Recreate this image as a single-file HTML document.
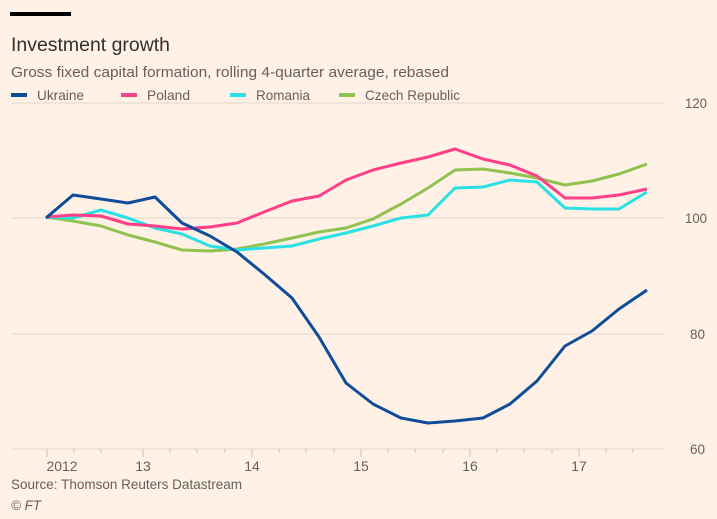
<!DOCTYPE html>
<html><head><meta charset="utf-8"><style>
body{margin:0;background:#fff1e5;}
svg{display:block;font-family:"Liberation Sans",sans-serif;}
</style></head><body>
<svg width="717" height="519" viewBox="0 0 717 519" xmlns="http://www.w3.org/2000/svg">
<rect width="717" height="519" fill="#fff1e5"/>
<rect x="10" y="12" width="61" height="4" fill="#000"/>
<text x="11" y="51" font-size="19" fill="#33302e" textLength="159" lengthAdjust="spacingAndGlyphs">Investment growth</text>
<text x="11" y="77" font-size="15" fill="#66605c" textLength="438" lengthAdjust="spacingAndGlyphs">Gross fixed capital formation, rolling 4-quarter average, rebased</text>
<g font-size="14" fill="#66605c">
<rect x="11" y="93" width="16" height="4" fill="#0f4c9a"/><text x="37" y="100" textLength="47" lengthAdjust="spacingAndGlyphs">Ukraine</text>
<rect x="121" y="93" width="16" height="4" fill="#ff3f87"/><text x="147" y="100" textLength="43" lengthAdjust="spacingAndGlyphs">Poland</text>
<rect x="230" y="93" width="16" height="4" fill="#2ae0e4"/><text x="256" y="100" textLength="54" lengthAdjust="spacingAndGlyphs">Romania</text>
<rect x="339" y="93" width="16" height="4" fill="#8fc24f"/><text x="365" y="100" textLength="95" lengthAdjust="spacingAndGlyphs">Czech Republic</text>
</g>
<g stroke="#e0d6cc" stroke-width="1">
<line x1="12" x2="665" y1="103" y2="103"/><line x1="12" x2="665" y1="218" y2="218"/>
<line x1="12" x2="665" y1="334" y2="334"/><line x1="12" x2="665" y1="449" y2="449"/>
</g>
<g font-size="14" fill="#66605c">
<text x="685" y="108" textLength="22" lengthAdjust="spacingAndGlyphs">120</text><text x="685" y="223" textLength="22" lengthAdjust="spacingAndGlyphs">100</text><text x="690" y="339" textLength="15" lengthAdjust="spacingAndGlyphs">80</text><text x="690" y="454" textLength="15" lengthAdjust="spacingAndGlyphs">60</text>
</g>
<g stroke="#ccc1b7">
<line x1="47" x2="47" y1="449" y2="457"/><line x1="143" x2="143" y1="449" y2="457"/><line x1="252" x2="252" y1="449" y2="457"/><line x1="361" x2="361" y1="449" y2="457"/><line x1="470" x2="470" y1="449" y2="457"/><line x1="579" x2="579" y1="449" y2="457"/>
<line x1="74" x2="74" y1="449" y2="453"/><line x1="101" x2="101" y1="449" y2="453"/>
<line x1="170" x2="170" y1="449" y2="453"/><line x1="197" x2="197" y1="449" y2="453"/><line x1="225" x2="225" y1="449" y2="453"/>
<line x1="279" x2="279" y1="449" y2="453"/><line x1="306" x2="306" y1="449" y2="453"/><line x1="334" x2="334" y1="449" y2="453"/>
<line x1="388" x2="388" y1="449" y2="453"/><line x1="415" x2="415" y1="449" y2="453"/><line x1="443" x2="443" y1="449" y2="453"/>
<line x1="497" x2="497" y1="449" y2="453"/><line x1="524" x2="524" y1="449" y2="453"/><line x1="552" x2="552" y1="449" y2="453"/>
<line x1="606" x2="606" y1="449" y2="453"/><line x1="633" x2="633" y1="449" y2="453"/>
</g>
<g font-size="14" fill="#66605c" text-anchor="middle">
<text x="62" y="471" textLength="31" lengthAdjust="spacingAndGlyphs">2012</text><text x="143" y="471">13</text><text x="252" y="471">14</text><text x="361" y="471">15</text><text x="470" y="471">16</text><text x="579" y="471">17</text>
</g>
<text x="11" y="489" font-size="14" fill="#66605c" textLength="231" lengthAdjust="spacingAndGlyphs">Source: Thomson Reuters Datastream</text>
<text x="11" y="510" font-size="14" fill="#66605c" font-style="italic" textLength="30" lengthAdjust="spacingAndGlyphs">© FT</text>
<g fill="none" stroke-width="3" stroke-linejoin="round">
<polyline stroke="#8fc24f" points="46,217 73,221 101,226 128,235 155,242 182,250 210,251 237,249 264,244 292,238 319,232 346,228 373,219 401,204 428,188 455,170 483,169 510,173 537,178 565,185 592,181 619,174 647,164"/>
<polyline stroke="#2ae0e4" points="46,217 73,218 101,210 128,218 155,228 182,234 210,246 237,250 264,248 292,246 319,239 346,233 373,226 401,218 428,215 455,188 483,187 510,180 537,182 565,208 592,209 619,209 647,192"/>
<polyline stroke="#ff3f87" points="46,217 73,215 101,216 128,224 155,226 182,229 210,227 237,223 264,212 292,201 319,196 346,180 373,170 401,163 428,157 455,149 483,159 510,165 537,176 565,198 592,198 619,195 647,189"/>
<polyline stroke="#0f4c9a" points="46,218 73,195 101,199 128,203 155,197 182,223 210,236 237,252 264,274 292,298 319,337 346,383 373,404 401,418 428,423 455,421 483,418 510,404 537,381 565,346 592,331 619,309 647,290"/>
</g>
</svg>
</body></html>
